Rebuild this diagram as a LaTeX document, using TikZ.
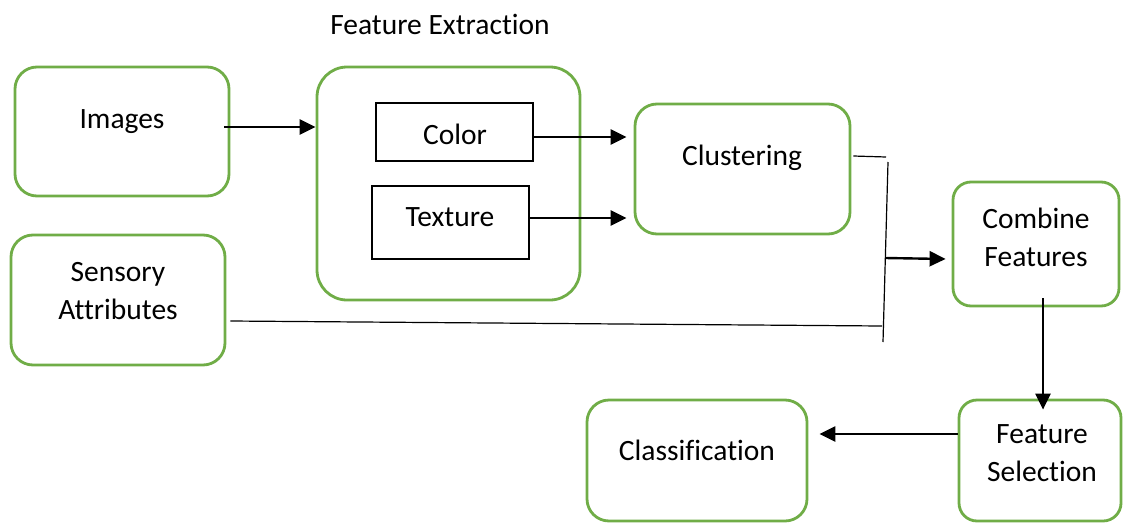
\documentclass[tikz,border=0pt]{standalone}
\usepackage{fontspec}
\setmainfont{Carlito}[Ligatures=CommonOff]
\usetikzlibrary{positioning,arrows.meta,calc}
\definecolor{BoxGreen}{RGB}{112,173,71}
\tikzset{
  flow/.style={-{Triangle[length=16pt,width=15pt]},line width=2.4pt,draw=black},
  plain/.style={line width=1.2pt,draw=black},
  greenbox/.style={draw=BoxGreen,line width=2.8pt,rounded corners=22pt,fill=white},
  featbox/.style={draw=black,line width=1.2pt,fill=white},
  txt/.style={align=center,inner sep=0pt,font=\fontsize{29.5}{38}\selectfont}
}
\begin{document}
\begin{tikzpicture}[x=1pt,y=-1pt]
  \useasboundingbox (0,0) rectangle (1123,522);
  % boxes
  \node[greenbox,minimum width=214,minimum height=129] (images) at (122,131.5) {};
  \node[greenbox,minimum width=214,minimum height=130] (sensory) at (118,300) {};
  \node[greenbox,minimum width=263,minimum height=233,rounded corners=30pt] (extract) at (448.5,183.5) {};
  \node[featbox,minimum width=157,minimum height=58] (color) at (454.5,132) {};
  \node[featbox,minimum width=157,minimum height=73] (texture) at (450.5,222.5) {};
  \node[greenbox,minimum width=215,minimum height=130] (cluster) at (742.5,169) {};
  \node[greenbox,minimum width=166,minimum height=124,rounded corners=18pt] (combine) at (1036,244) {};
  \node[greenbox,minimum width=162,minimum height=121,rounded corners=18pt] (select) at (1040,460.5) {};
  \node[greenbox,minimum width=220,minimum height=121] (classify) at (697,460.5) {};
  % texts
  \node[txt] (extractT) at (440,24) {Feature Extraction};
  \node[txt] (imagesT) at (122,122) {Images};
  \node[txt] (sensoryT) at (118,291) {Sensory\\Attributes};
  \node[txt] (colorT) at (455,134) {Color};
  \node[txt] (textureT) at (450,217) {Texture};
  \node[txt] (clusterT) at (742,158) {Clustering};
  \node[txt] (combineT) at (1036,237.5) {Combine\\Features};
  \node[txt] (selectT) at (1042,453.5) {Feature\\Selection};
  \node[txt] (classifyT) at (697,450) {Classification};
  % joining bar
  \coordinate (bartop) at (888,162);
  \coordinate (barbot) at (883,342);
  \coordinate (barmid) at (885.5,258);
  \coordinate (clusend) at (886,157);
  \coordinate (sensend) at (882,326);
  % connectors
  \draw[flow] ([xshift=-6pt]images.east |- 0,127) -- (extract.west |- 0,127);
  \draw[flow] (color.east |- 0,137) -- ([xshift=-7pt]cluster.west |- 0,137);
  \draw[flow] (texture.east |- 0,218) -- ([xshift=-7pt]cluster.west |- 0,218);
  \draw[plain] ([xshift=2pt]cluster.east |- 0,156) -- (clusend);
  \draw[plain] (bartop) -- (barbot);
  \draw[plain] ([xshift=4pt]sensory.east |- 0,321) -- (sensend);
  \draw[flow] (barmid) -- ([xshift=-6pt]combine.west |- 0,259);
  \draw[flow] ([yshift=9pt]combine.south -| 1043,0) -- ([yshift=-11pt]select.north -| 1043,0);
  \draw[flow] (select.west |- 0,434) -- ([xshift=11pt]classify.east |- 0,434);
\end{tikzpicture}
\end{document}
